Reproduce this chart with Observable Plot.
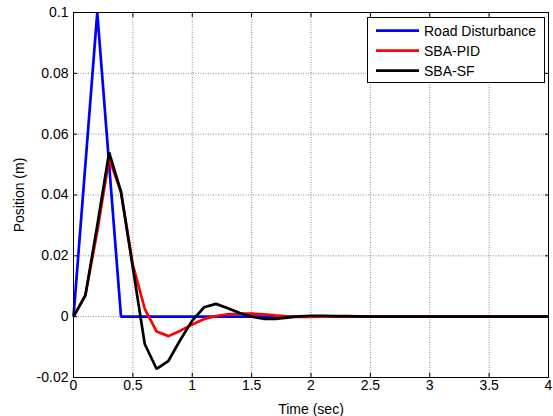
<!DOCTYPE html>
<html>
<head>
<meta charset="utf-8">
<script src="https://cdn.jsdelivr.net/npm/d3@7"></script>
<script src="https://cdn.jsdelivr.net/npm/@observablehq/plot@0.6"></script>
<style>
  html, body { margin: 0; padding: 0; background: #fff; }
  #wrap { position: relative; width: 553px; height: 416px; font-family: "Liberation Sans", Arial, sans-serif; }
  #legend { position: absolute; left: 367px; top: 17px; }
</style>
</head>
<body>
<div id="wrap"></div>
<script>
const time = d3.range(0, 41).map(i => +(i * 0.1).toFixed(1));
const roadDisturbance = [0, 0.05, 0.1, 0.05, 0, 0, 0, 0, 0, 0,
  0, 0, 0, 0, 0, 0, 0, 0, 0, 0,
  0, 0, 0, 0, 0, 0, 0, 0, 0, 0,
  0, 0, 0, 0, 0, 0, 0, 0, 0, 0, 0];
const sbaPID = [0, 0.007, 0.028, 0.052, 0.041, 0.017, 0.0026, -0.0049, -0.0064, -0.0046,
  -0.0026, -0.0008, 0.0002, 0.0008, 0.001, 0.001, 0.0008, 0.0004, 0.0001, -0.0001,
  -0.0001, 0, 0, 0, 0, 0, 0, 0, 0, 0,
  0, 0, 0, 0, 0, 0, 0, 0, 0, 0, 0];
const sbaSF = [0, 0.007, 0.030, 0.054, 0.041, 0.016, -0.009, -0.0172, -0.0145, -0.0076,
  -0.0013, 0.0031, 0.0042, 0.0028, 0.0012, 0, -0.0007, -0.0007, -0.0003, 0.0001,
  0.0003, 0.0003, 0.0002, 0.0002, 0.0001, 0, 0, 0, 0, 0,
  0, 0, 0, 0, 0, 0, 0, 0, 0, 0, 0];
const seriesNames = ["Road Disturbance", "SBA-PID", "SBA-SF"];
const seriesColors = ["#0000ff", "#ff0000", "#000000"];
const xTicks = [0, 0.5, 1, 1.5, 2, 2.5, 3, 3.5, 4];
const xTickLabels = ["0", "0.5", "1", "1.5", "2", "2.5", "3", "3.5", "4"];
const yTicks = [-0.02, 0, 0.02, 0.04, 0.06, 0.08, 0.1];
const yTickLabels = ["-0.02", "0", "0.02", "0.04", "0.06", "0.08", "0.1"];

const seriesValues = [roadDisturbance, sbaPID, sbaSF];
const rows = seriesValues.flatMap((vals, s) => vals.map((v, i) => ({t: time[i], v, s: seriesNames[s]})));

const gridStyle = {stroke: "#8a8a8a", strokeOpacity: 1, strokeDasharray: "1,1.5", strokeWidth: 1};

const chart = Plot.plot({
  width: 553,
  height: 416,
  marginLeft: 73,
  marginRight: 5,
  marginTop: 12,
  marginBottom: 39,
  style: {fontFamily: "'Liberation Sans', Arial, sans-serif", fontSize: "14px", color: "#000", background: "#fff"},
  x: {domain: [0, 4]},
  y: {domain: [-0.02, 0.1]},
  color: {domain: seriesNames, range: seriesColors},
  marks: [
    Plot.gridX(xTicks, gridStyle),
    Plot.gridY(yTicks, gridStyle),
    Plot.axisX(xTicks, {anchor: "bottom", tickSize: -4, tickPadding: 7, tickFormat: (d, i) => xTickLabels[i], label: "Time (sec)", labelAnchor: "center", labelArrow: "none", labelOffset: 36, fontSize: 14}),
    Plot.axisX(xTicks, {anchor: "top", tickSize: -4, tickFormat: () => "", label: null}),
    Plot.axisY(yTicks, {anchor: "left", tickSize: -4, tickPadding: 9, tickFormat: (d, i) => yTickLabels[i], label: "Position (m)", labelAnchor: "center", labelArrow: "none", labelOffset: 59, fontSize: 14}),
    Plot.axisY(yTicks, {anchor: "right", tickSize: -4, tickFormat: () => "", label: null}),
    Plot.line(rows, {x: "t", y: "v", z: "s", stroke: "s", strokeWidth: 2.7, strokeLinejoin: "miter", strokeLinecap: "butt"}),
    Plot.frame({stroke: "#000", strokeWidth: 1})
  ]
});

const wrap = document.getElementById("wrap");
wrap.appendChild(chart);

// legend overlay
const ns = "http://www.w3.org/2000/svg";
const leg = document.createElementNS(ns, "svg");
leg.setAttribute("id", "legend");
leg.setAttribute("width", 179);
leg.setAttribute("height", 67);
let html = `<rect x="0.5" y="0.5" width="177" height="65" fill="#fff" stroke="#000" stroke-width="1"/>`;
seriesNames.forEach((name, i) => {
  const y = 13.7 + i * 20;
  html += `<line x1="9" x2="52" y1="${y}" y2="${y}" stroke="${seriesColors[i]}" stroke-width="2.7"/>`;
  html += `<text x="57" y="${y + 5.3}" font-family="'Liberation Sans', Arial, sans-serif" font-size="14" fill="#000">${name}</text>`;
});
leg.innerHTML = html;
wrap.appendChild(leg);
</script>
</body>
</html>
